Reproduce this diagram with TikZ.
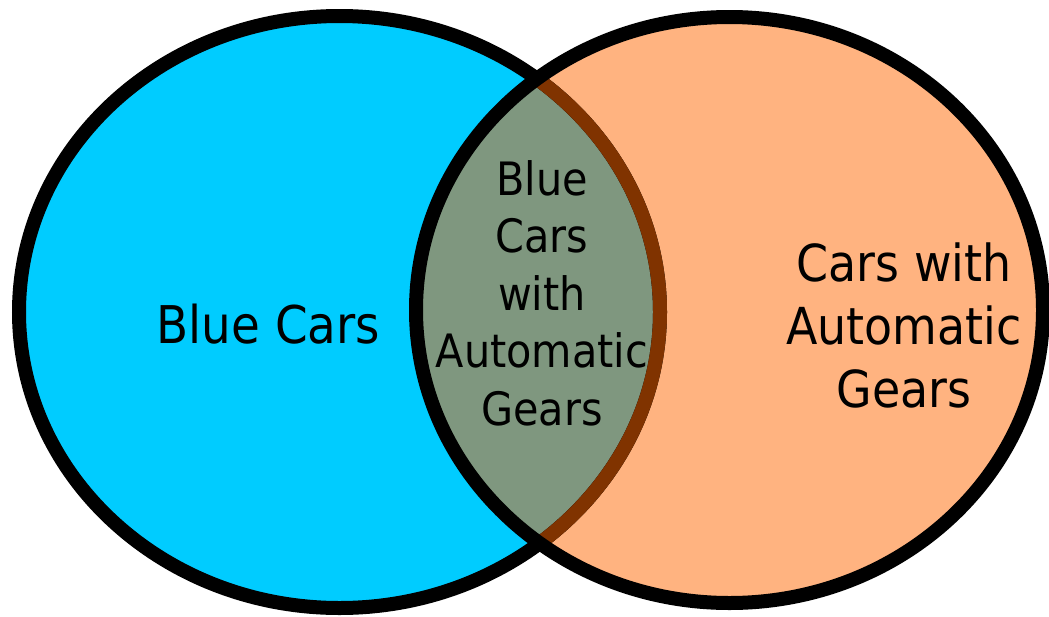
\documentclass[tikz,border=0pt]{standalone}
\usepackage{fontspec}
\setmainfont{DejaVu Sans}[FakeStretch=0.9]
\definecolor{bluefill}{HTML}{00CCFF}
\definecolor{orangefill}{HTML}{FFB380}
\definecolor{mixfill}{HTML}{7F977F}
\definecolor{brownline}{HTML}{803300}
\begin{document}
\begin{tikzpicture}[x=1pt,y=-1pt,
  outline/.style={draw=black, line width=14pt},
  lbl/.style={inner sep=0pt, text=black},
  lefttext/.style={font=\fontsize{52}{63}\selectfont},
  bigtext/.style={font=\fontsize{51}{63}\selectfont},
  midtext/.style={font=\fontsize{46}{57.5}\selectfont}]
\useasboundingbox (0,0) rectangle (1049,616);
\def\leftset{(339.5,312) ellipse [x radius=320.5pt, y radius=296pt]}
\def\rightset{(729.5,310) ellipse [x radius=313.5pt, y radius=293pt]}
\fill[bluefill] \leftset;
\fill[orangefill] \rightset;
\begin{scope}
  \clip \leftset;
  \fill[mixfill] \rightset;
\end{scope}
\draw[outline] \leftset;
\begin{scope}
  \clip \rightset;
  \draw[outline, draw=brownline] \leftset;
\end{scope}
\draw[outline] \rightset;
\node[lbl, lefttext] (blue) at (268.5,324) {Blue Cars};
\node[lbl, midtext, align=center] (both) at (542,293) {Blue\\Cars\\with\\Automatic\\Gears};
\node[lbl, bigtext, align=center] (auto) at (904,325) {Cars with\\Automatic\\Gears};
\end{tikzpicture}
\end{document}
